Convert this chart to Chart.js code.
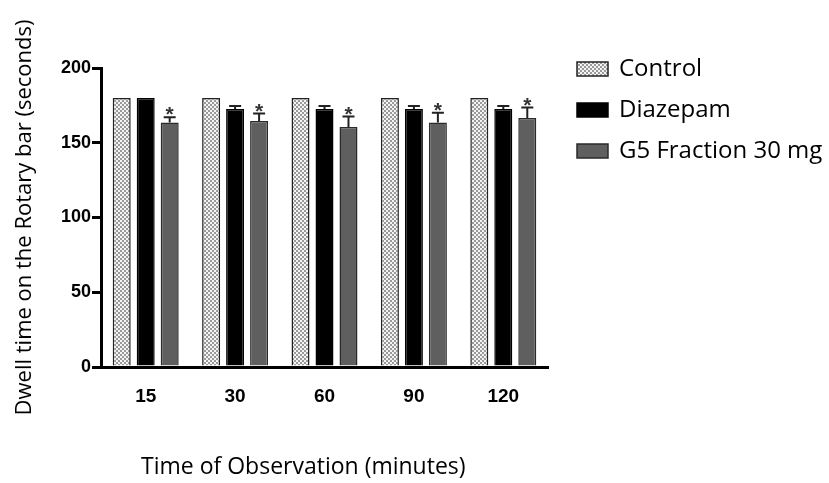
<!DOCTYPE html>
<html>
<head>
<meta charset="utf-8">
<script src="https://cdn.jsdelivr.net/npm/chart.js@4"></script>
<style>
  body { margin: 0; background: #fff; }
  #wrap { width: 829px; height: 483px; }
</style>
</head>
<body>
<div id="wrap"><canvas id="chart1" width="829" height="483"></canvas></div>
<script>
// data
const times = ['15', '30', '60', '90', '120'];
const seriesNames = ['Control', 'Diazepam', 'G5 Fraction 30 mg'];
const control = [180, 180, 180, 180, 180];
const diazepam = [180, 172.5, 172.5, 172.5, 172.5];
const g5 = [163.5, 164.5, 160.5, 163.5, 166.5];
const controlErr = [0, 0, 0, 0, 0];
const diazepamErr = [0, 2, 2, 2, 2];
const g5Err = [3.5, 5, 7, 6.5, 7];
const g5Marks = ['*', '*', '*', '*', '*'];
const yTicks = [0, 50, 100, 150, 200];

const labelFont = 'Open Sans';

// dotted fill for the control bars
function dotPattern() {
    const c = document.createElement('canvas');
    c.width = 4;
    c.height = 4;
    const g = c.getContext('2d');
    g.fillStyle = '#9a9a9a';
    g.fillRect(0, 0, 4, 4);
    g.fillStyle = '#f4f4f4';
    g.fillRect(0, 0, 2, 2);
    g.fillRect(2, 2, 2, 2);
    return g.createPattern(c, 'repeat');
}
const dots = dotPattern();

// error bars (upward only) + significance stars
const errorBars = {
    id: 'errorBars',
    afterDatasetsDraw(chart) {
        const ctx = chart.ctx;
        const y = chart.scales.y;
        chart.data.datasets.forEach((ds, i) => {
            const meta = chart.getDatasetMeta(i);
            meta.data.forEach((bar, j) => {
                const err = ds.err[j];
                const top = y.getPixelForValue(ds.data[j] + err);
                ctx.save();
                ctx.strokeStyle = '#222';
                ctx.lineWidth = 2;
                if (err > 0) {
                    ctx.beginPath();
                    ctx.moveTo(bar.x, bar.y);
                    ctx.lineTo(bar.x, top);
                    ctx.moveTo(bar.x - 6, top);
                    ctx.lineTo(bar.x + 6, top);
                    ctx.stroke();
                }
                if (ds.marks && ds.marks[j]) {
                    ctx.fillStyle = '#333';
                    ctx.font = 'bold 21px "Liberation Sans"';
                    ctx.textAlign = 'center';
                    ctx.textBaseline = 'alphabetic';
                    ctx.fillText(ds.marks[j], bar.x, top + 4);
                }
                ctx.restore();
            });
        });
    }
};

// legend on the right and the x axis title, drawn by hand to match placement
const sideText = {
    id: 'sideText',
    afterDraw(chart) {
        const ctx = chart.ctx;
        ctx.save();
        chart.data.datasets.forEach((ds, i) => {
            const cy = 69 + i * 41;
            ctx.fillStyle = ds.backgroundColor;
            ctx.fillRect(577, cy - 7, 31, 14);
            ctx.strokeStyle = ds.borderColor;
            ctx.lineWidth = 1.5;
            ctx.strokeRect(577, cy - 7, 31, 14);
            ctx.fillStyle = '#000';
            ctx.font = '24px "' + labelFont + '"';
            ctx.textAlign = 'left';
            ctx.textBaseline = 'middle';
            ctx.fillText(ds.label, 619, cy);
        });
        ctx.fillStyle = '#000';
        ctx.font = '23px "' + labelFont + '"';
        ctx.textAlign = 'left';
        ctx.textBaseline = 'middle';
        ctx.fillText('Time of Observation (minutes)', 141, 467);
        ctx.restore();
    }
};

const ctx = document.querySelector('#chart1').getContext('2d');
const chart = new Chart(ctx, {
    type: 'bar',
    data: {
        labels: times,
        datasets: [
            { label: seriesNames[0], data: control, err: controlErr, backgroundColor: dots, borderColor: '#222', borderWidth: 1.5 },
            { label: seriesNames[1], data: diazepam, err: diazepamErr, backgroundColor: '#000', borderColor: '#000', borderWidth: 1.5 },
            { label: seriesNames[2], data: g5, err: g5Err, marks: g5Marks, backgroundColor: '#5f5f5f', borderColor: '#2a2a2a', borderWidth: 1.5 }
        ]
    },
    options: {
        responsive: false,
        animation: false,
        layout: { padding: { top: 68, right: 281, bottom: 0, left: 0 } },
        categoryPercentage: 0.805,
        barPercentage: 0.75,
        plugins: {
            legend: { display: false },
            tooltip: { enabled: false }
        },
        scales: {
            x: {
                grid: { display: false, drawTicks: false },
                border: { color: '#000', width: 3 },
                ticks: {
                    color: '#000',
                    padding: 18,
                    font: { family: 'Liberation Sans', size: 19, weight: 'bold' }
                },
                afterFit: (scale) => { scale.height = 116; }
            },
            y: {
                min: 0,
                max: 200,
                afterBuildTicks: (scale) => { scale.ticks = yTicks.map(v => ({ value: v })); },
                grid: { drawOnChartArea: false, color: '#000', tickColor: '#000', tickLength: 9, lineWidth: 3 },
                border: { color: '#000', width: 3 },
                ticks: {
                    color: '#000',
                    padding: 1,
                    font: { family: 'Liberation Sans', size: 18, weight: 'bold' }
                },
                title: {
                    display: true,
                    text: 'Dwell time on the Rotary bar (seconds)',
                    color: '#000',
                    padding: { top: 12, bottom: 4 },
                    font: { family: labelFont, size: 22 }
                },
                afterFit: (scale) => { scale.width = 101; }
            }
        }
    },
    plugins: [errorBars, sideText]
});
</script>
</body>
</html>
